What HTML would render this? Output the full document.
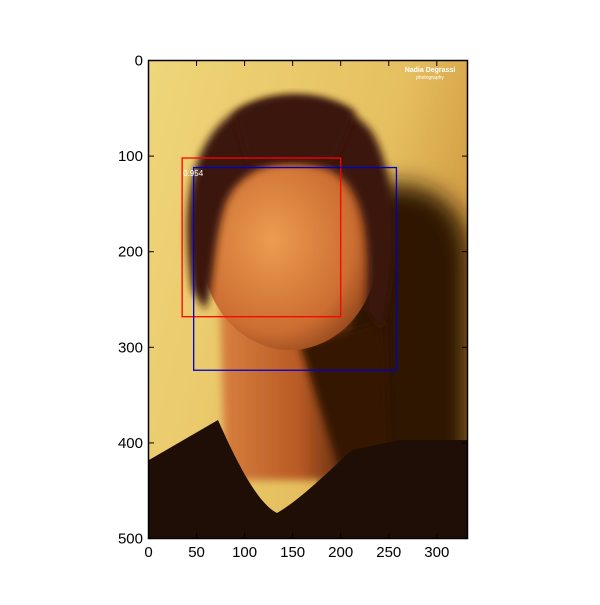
<!DOCTYPE html>
<html><head><meta charset="utf-8"><style>
body{margin:0;background:#fff;font-family:"Liberation Sans",sans-serif}
</style></head><body>
<svg id="chart" width="600" height="600" xmlns="http://www.w3.org/2000/svg">
<defs>
<linearGradient id="bg" x1="0" y1="0" x2="1" y2="0.4">
<stop offset="0" stop-color="#efd67a"/><stop offset="0.7" stop-color="#e6c060"/><stop offset="1" stop-color="#d09a40"/></linearGradient>
<radialGradient id="face" cx="0.4" cy="0.45" r="0.65">
<stop offset="0" stop-color="#ec9c50"/><stop offset="0.7" stop-color="#cc6e32"/><stop offset="1" stop-color="#8a4018"/></radialGradient>
<linearGradient id="neck" x1="0" y1="0" x2="1" y2="0">
<stop offset="0" stop-color="#d88040"/><stop offset="0.55" stop-color="#b85a24"/><stop offset="1" stop-color="#3a1806"/></linearGradient>
<filter id="blur"><feGaussianBlur stdDeviation="12"/></filter>
<filter id="blur2"><feGaussianBlur stdDeviation="4"/></filter>
<clipPath id="clip"><rect x="149" y="61" width="318" height="477"/></clipPath>
</defs>
<g id="photo" clip-path="url(#clip)">
<rect x="149" y="61" width="318" height="477" fill="url(#bg)"/>
<path d="M360,190 C420,170 470,200 470,260 L470,540 L330,540 L330,330 Z" fill="#2e1406" filter="url(#blur)"/>
<path d="M220,300 L350,310 L365,480 L225,480 Z" fill="url(#neck)" filter="url(#blur2)"/>
<path d="M300,345 L385,320 L390,470 L340,470 Z" fill="#341606" filter="url(#blur2)"/>
<ellipse cx="290" cy="250" rx="88" ry="100" fill="url(#face)"/>
<path d="M192,290 C180,210 188,140 240,108 C280,88 345,95 372,132 C398,175 398,260 382,330 L366,310 C372,230 362,180 325,168 C285,155 240,165 225,205 C212,245 215,285 205,310 Z" fill="#3a1808" filter="url(#blur2)"/>
<path d="M235,115 C270,88 325,90 355,112 L335,160 L248,162 Z" fill="#3a1808" filter="url(#blur2)"/>
<path d="M149,460 L218,420 C240,470 260,505 277,513 C300,500 330,470 352,450 L400,440 L467,440 L467,538 L149,538 Z" fill="#1e0e06"/>
<text x="430" y="72" font-size="7" fill="#fff" text-anchor="middle" font-weight="bold">Nadia Degrassi</text>
<text x="430" y="79" font-size="5" fill="#fff" text-anchor="middle">photography</text>
</g>
<g id="boxes"></g>
<rect x="148.5" y="60.5" width="319" height="478" fill="none" stroke="#000" stroke-width="1.5"/>
<g id="ticks"></g>
</svg>
<script>
const xTicks=[0,50,100,150,200,250,300];
const yTicks=[0,100,200,300,400,500];
const bX0=[35,47], bY0=[102,112], bX1=[200,258], bY1=[268,324];
const bColors=['#ff0000','#0000cc'];
const bNames=['red-box','blue-box'];
const scoreText=['0.954'];
const NS='http://www.w3.org/2000/svg';
const sx=v=>148.5+v*0.961, sy=v=>60.5+v*0.956;
const bg=document.getElementById('boxes');
for(let i=0;i<bX0.length;i++){
 const r=document.createElementNS(NS,'rect');
 r.setAttribute('x',sx(bX0[i]));r.setAttribute('y',sy(bY0[i]));
 r.setAttribute('width',sx(bX1[i])-sx(bX0[i]));r.setAttribute('height',sy(bY1[i])-sy(bY0[i]));
 r.setAttribute('fill','none');r.setAttribute('stroke',bColors[i]);r.setAttribute('stroke-width','1.3');
 
 
 bg.appendChild(r);
}
const st=document.createElementNS(NS,'text');
st.setAttribute('x',sx(bX0[0])+1);st.setAttribute('y',sy(bY0[0])+18);
st.setAttribute('font-size','8');st.setAttribute('fill','#fff');st.textContent=scoreText[0];


bg.appendChild(st);
const tg=document.getElementById('ticks');
function line(x1,y1,x2,y2){const l=document.createElementNS(NS,'line');l.setAttribute('x1',x1);l.setAttribute('y1',y1);l.setAttribute('x2',x2);l.setAttribute('y2',y2);l.setAttribute('stroke','#000');
 
 
 tg.appendChild(l);}
function txt(x,y,s,a){const t=document.createElementNS(NS,'text');t.setAttribute('x',x);t.setAttribute('y',y);t.setAttribute('font-size','15');t.setAttribute('text-anchor',a);t.textContent=s;
 
 
 tg.appendChild(t);}
xTicks.forEach(v=>{const x=sx(v);line(x,60.5,x,66);line(x,538.5,x,533);txt(x,557,String(v),'middle');});
yTicks.forEach(v=>{const y=sy(v);line(148.5,y,154,y);line(467.5,y,462,y);txt(143,y+5,String(v),'end');});
</script>
</body></html>
